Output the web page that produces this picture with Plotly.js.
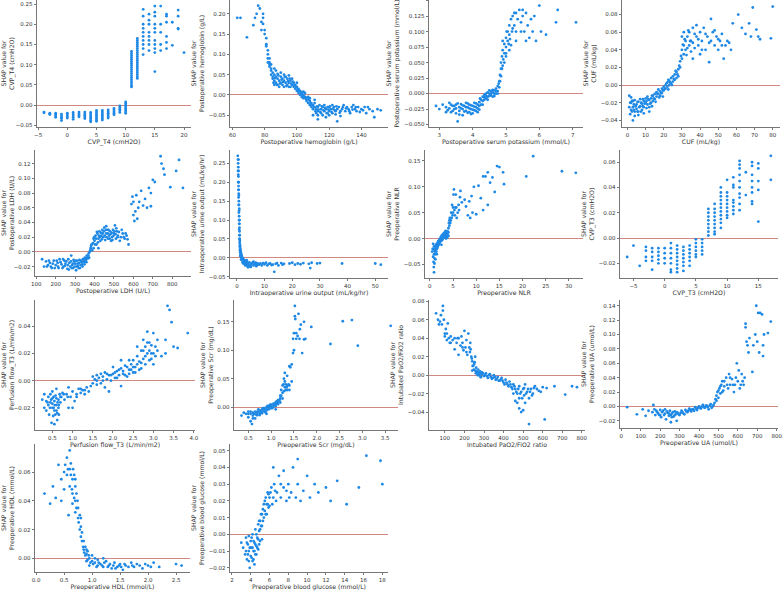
<!DOCTYPE html>
<html>
<head>
<meta charset="utf-8">
<script src="https://cdn.plot.ly/plotly-3.0.1.min.js"></script>
<style>
  html, body { margin: 0; padding: 0; background: #fff; }
  #chart { width: 784px; height: 593px; }
</style>
</head>
<body>
<div id="chart"></div>
<script>
// feature names, one per panel
let featureNames = [
    'CVP_T4 (cmH2O)', 'Postoperative hemoglobin (g/L)', 'Postoperative serum potassium (mmol/L)', 'CUF (mL/kg)',
    'Postoperative LDH (U/L)', 'Intraoperative urine output (mL/kg/hr)', 'Preoperative NLR', 'CVP_T3 (cmH2O)',
    'Perfusion flow_T3 (L/min/m2)', 'Preoperative Scr (mg/dL)', 'Intubated PaO2/FiO2 ratio', 'Preoperative UA (umol/L)',
    'Preoperative HDL (mmol/L)', 'Preoperative blood glucose (mmol/L)'
];

// discrete features: [value, [shap values...]]
let cvpT4 = [
    [-4, [-0.017, -0.019]],
    [-3, [-0.020, -0.022, -0.023]],
    [-2, [-0.020, -0.024, -0.027, -0.030]],
    [-1, [-0.022, -0.026, -0.030, -0.033, -0.038]],
    [0, [-0.020, -0.024, -0.028, -0.032]],
    [1, [-0.018, -0.022, -0.026, -0.030, -0.035]],
    [2, [-0.017, -0.021, -0.025, -0.029]],
    [3, [-0.017, -0.021, -0.025, -0.029, -0.033]],
    [4, [-0.018, -0.022, -0.026, -0.030, -0.034, -0.038, -0.041]],
    [5, [-0.013, -0.017, -0.021, -0.025, -0.029, -0.033, -0.037, -0.040]],
    [6, [-0.013, -0.017, -0.021, -0.025, -0.029, -0.033, -0.037]],
    [7, [-0.012, -0.016, -0.020, -0.024, -0.028, -0.032]],
    [8, [-0.008, -0.012, -0.016, -0.020, -0.024]],
    [9, [-0.002, -0.006, -0.010, -0.014, -0.018]],
    [10, [0.008, 0.004, 0.000, -0.004, -0.008, -0.012, -0.016, -0.020]],
    [11, [0.133, 0.128, 0.123, 0.118, 0.113, 0.108, 0.103, 0.098, 0.093, 0.088, 0.083, 0.078, 0.073, 0.068, 0.063, 0.058, 0.053, 0.048, 0.045]],
    [12, [0.165, 0.160, 0.155, 0.150, 0.145, 0.140, 0.135, 0.130, 0.125, 0.120, 0.115, 0.110, 0.105, 0.100, 0.095, 0.090, 0.085, 0.080, 0.075, 0.070, 0.066]],
    [13, [0.237, 0.220, 0.200, 0.190, 0.180, 0.170, 0.160, 0.150, 0.140, 0.125]],
    [14, [0.225, 0.210, 0.200, 0.180, 0.170, 0.160, 0.150, 0.135]],
    [15, [0.245, 0.230, 0.220, 0.200, 0.190, 0.180, 0.160, 0.150, 0.140, 0.130, 0.083]],
    [16, [0.245, 0.200, 0.180, 0.150, 0.135]],
    [17, [0.225, 0.220, 0.205, 0.170, 0.155, 0.140]],
    [18, [0.205, 0.148]],
    [19, [0.235, 0.220, 0.190, 0.188]],
    [20, [0.130]]
];

let cvpT3 = [
    [-6, [-0.015]],
    [-5, [-0.006]],
    [-4, [-0.022]],
    [-3, [-0.007, -0.010, -0.015, -0.018]],
    [-2, [-0.008, -0.011, -0.015, -0.018, -0.025]],
    [-1, [-0.008, -0.011, -0.014, -0.017, -0.020]],
    [0, [-0.008, -0.012, -0.016, -0.020]],
    [1, [-0.004, -0.008, -0.012, -0.016, -0.020, -0.025, -0.027]],
    [2, [-0.006, -0.009, -0.012, -0.015, -0.018, -0.021, -0.024, -0.027]],
    [3, [-0.007, -0.010, -0.013, -0.016, -0.019, -0.022, -0.026]],
    [4, [-0.006, -0.009, -0.012, -0.015, -0.018, -0.022]],
    [5, [-0.001, -0.004, -0.007, -0.010, -0.013, -0.015]],
    [6, [-0.001, -0.004, -0.007, -0.010, -0.013]],
    [7, [0.023, 0.020, 0.017, 0.014, 0.011, 0.008, 0.005, 0.002]],
    [8, [0.027, 0.023, 0.020, 0.017, 0.014, 0.011, 0.008, 0.005, 0.003]],
    [9, [0.040, 0.036, 0.033, 0.030, 0.027, 0.024, 0.021, 0.018, 0.015, 0.012, 0.008]],
    [10, [0.046, 0.036, 0.033, 0.030, 0.027, 0.024, 0.021, 0.018, 0.016]],
    [11, [0.048, 0.042, 0.040, 0.030, 0.028, 0.025, 0.022, 0.019]],
    [12, [0.061, 0.058, 0.055, 0.050, 0.045, 0.040, 0.035, 0.032, 0.027, 0.022]],
    [13, [0.052, 0.034]],
    [14, [0.060, 0.057, 0.050, 0.045, 0.040, 0.036, 0.029, 0.027]],
    [15, [0.059, 0.055, 0.045, 0.038, 0.013]],
    [17, [0.065, 0.046]]
];

// continuous features: [value, shap]
let hemoglobin = [
    [63,0.19],[65,0.19],[69,0.142],[73,0.172],[74,0.19],[75,0.2],[76,0.22],[77,0.213],[78,0.18],[78,0.16],[79,0.19],[79,0.2],
    [79,0.175],[80,0.15],[80,0.16],[81,0.14],[81,0.125],[81,0.12],[82,0.11],[82,0.1],[82,0.09],[83,0.08],[83,0.07],[83,0.075],
    [84,0.06],[84,0.065],[84,0.05],[85,0.055],[85,0.045],[85,0.04],[86,0.05],[86,0.035],[87,0.03],[87,0.045],[88,0.04],[88,0.025],
    [89,0.035],[89,0.02],[90,0.045],[90,0.03],[91,0.025],[91,0.04],[92,0.035],[92,0.02],[93,0.03],[93,0.045],[94,0.025],[94,0.04],
    [95,0.03],[95,0.02],[96,0.035],[96,0.02],[97,0.025],[97,0.04],[98,0.02],[98,0.03],[99,0.015],[99,0.025],[100,0.01],[100,0.02],
    [101,0.005],[101,0.015],[102,0.0],[102,0.01],[103,0.005],[103,-0.005],[104,0.0],[104,-0.008],[105,-0.005],[105,0.005],
    [106,-0.01],[106,-0.015],[107,-0.005],[107,-0.02],[108,-0.015],[108,-0.025],[109,-0.02],[109,-0.03],[110,-0.025],[110,-0.035],
    [111,-0.03],[111,-0.02],[112,-0.035],[112,-0.045],[113,-0.03],[113,-0.04],[114,-0.025],[115,-0.035],[115,-0.045],[116,-0.03],
    [117,-0.04],[117,-0.025],[118,-0.035],[119,-0.03],[119,-0.045],[120,-0.04],[120,-0.03],[121,-0.035],[122,-0.025],[122,-0.045],
    [123,-0.03],[124,-0.04],[125,-0.035],[125,-0.065],[126,-0.03],[127,-0.04],[128,-0.035],[129,-0.025],[130,-0.04],[131,-0.03],
    [132,-0.035],[133,-0.045],[134,-0.03],[135,-0.025],[136,-0.035],[137,-0.04],[138,-0.03],[140,-0.035],[142,-0.03],[143,-0.045],
    [145,-0.035],[147,-0.04],[148,-0.055],[150,-0.035],[152,-0.038],[113,-0.06],[118,-0.055],[110,-0.05],[127,-0.052],[90,0.055],
    [87,0.06],[95,0.048],
    [85.5,0.03],[86.5,0.042],[87.5,0.025],[88.5,0.048],[89.5,0.028],[90.5,0.038],[91.5,0.032],[92.5,0.044],[93.5,0.022],[94.5,0.034],
    [95.5,0.04],[96.5,0.028],[97.5,0.033],[98.5,0.024],[99.5,0.02],[100.5,0.014],[101.5,0.01],[102.5,0.006],[103.5,0.0],[104.5,-0.004],
    [105.5,-0.01],[106.5,-0.006],[107.5,-0.012],[108.5,-0.02],[109.5,-0.025],[110.5,-0.03],[111.5,-0.04],[112.5,-0.028],[113.5,-0.036],
    [114.5,-0.042],[115.5,-0.028],[116.5,-0.038],[117.5,-0.032],[118.5,-0.045],[119.5,-0.036],[120.5,-0.028],[121.5,-0.042],
    [122.5,-0.034],[123.5,-0.038],[124.5,-0.028],[126.5,-0.044],[128.5,-0.03],[130.5,-0.033],[132.5,-0.04],[134.5,-0.036],
    [136.5,-0.03],[139,-0.042],[141,-0.038],[144,-0.03],[86,0.025],[88,0.052],[92,0.05],[100,0.03],[104,0.008],[108,-0.008],
    [111,-0.012],[113,-0.05],[116,-0.05],[120,-0.05],[124,-0.048],[86,0.065],[84,0.075],[83,0.09],[82,0.08]
];

let potassium = [
    [2.9,-0.02],[3.1,-0.018],[3.2,-0.022],[3.25,-0.027],[3.3,-0.015],[3.35,-0.03],[3.4,-0.02],[3.45,-0.025],[3.5,-0.018],[3.5,-0.032],
    [3.55,-0.045],[3.6,-0.022],[3.6,-0.028],[3.65,-0.017],[3.7,-0.025],[3.7,-0.035],[3.75,-0.02],[3.8,-0.028],[3.8,-0.015],[3.85,-0.022],
    [3.9,-0.03],[3.9,-0.018],[3.95,-0.025],[4.0,-0.02],[4.0,-0.032],[4.05,-0.015],[4.05,-0.027],[4.1,-0.022],[4.15,-0.018],[4.15,-0.03],
    [4.2,-0.02],[4.25,-0.01],[4.25,-0.018],[4.3,-0.005],[4.3,-0.012],[4.35,-0.002],[4.35,-0.01],[4.4,0.0],[4.4,-0.008],[4.45,0.002],
    [4.45,-0.005],[4.5,0.0],[4.5,0.005],[4.55,-0.003],[4.55,0.004],[4.6,0.002],[4.6,-0.005],[4.65,0.005],[4.7,0.0],[4.7,0.008],
    [4.75,0.004],[4.75,0.012],[4.8,0.01],[4.8,0.02],[4.82,0.03],[4.85,0.04],[4.85,0.05],[4.88,0.06],[4.9,0.045],[4.9,0.07],
    [4.95,0.065],[4.95,0.08],[5.0,0.075],[5.0,0.09],[5.05,0.085],[5.05,0.1],[5.1,0.095],[5.1,0.11],[5.15,0.12],[5.2,0.105],
    [5.2,0.125],[5.25,0.11],[5.3,0.13],[5.3,0.1],[5.35,0.12],[5.4,0.135],[5.45,0.115],[5.5,0.125],[5.55,0.1],[5.6,0.13],
    [5.65,0.11],[5.7,0.09],[5.75,0.12],[5.8,0.1],[5.9,0.085],[6.0,0.142],[6.05,0.1],[6.2,0.095],[6.5,0.115],[6.55,0.135],
    [7.1,0.115],[5.6,0.085],[5.85,0.125],[5.0,0.06],[5.1,0.07],[4.9,0.085],[5.15,0.078],
    [3.3,-0.024],[3.35,-0.018],[3.4,-0.028],[3.45,-0.02],[3.5,-0.024],[3.55,-0.016],[3.6,-0.034],[3.65,-0.024],[3.7,-0.019],
    [3.75,-0.029],[3.8,-0.022],[3.85,-0.031],[3.85,-0.016],[3.9,-0.024],[3.95,-0.019],[3.95,-0.033],[4.0,-0.026],[4.05,-0.021],
    [4.1,-0.028],[4.1,-0.016],[4.15,-0.024],[4.2,-0.014],[4.2,-0.026],[4.22,-0.008],[4.3,-0.018],[4.35,-0.006],[4.4,-0.004],
    [4.45,-0.01],[4.5,-0.004],[4.55,0.0],[4.6,0.006],[4.65,0.0],[4.65,-0.004],[4.7,0.004],[4.75,0.0],[4.78,0.016],[4.82,0.02],
    [4.85,0.028],[4.88,0.04],[4.92,0.055],[4.95,0.05],[5.0,0.065],[5.02,0.1],[5.08,0.08],[5.12,0.088],[5.18,0.1],[5.25,0.13],
    [5.3,0.085],[5.45,0.1],[5.5,0.135],[3.2,-0.03],[3.0,-0.025]
];

let cuf = [
    [1,-0.012],[1,-0.025],[1.5,-0.033],[2,-0.02],[2,-0.028],[2.5,-0.018],[3,-0.04],[3,-0.025],[3.5,-0.022],[4,-0.03],[4,-0.017],
    [5,-0.022],[5,-0.027],[6,-0.019],[6,-0.03],[7,-0.024],[7,-0.016],[8,-0.021],[8,-0.028],[9,-0.018],[9,-0.025],[10,-0.02],
    [10,-0.015],[11,-0.022],[11,-0.013],[12,-0.017],[12,-0.025],[13,-0.015],[13,-0.02],[14,-0.012],[14,-0.018],[15,-0.01],
    [15,-0.016],[16,-0.013],[16,-0.008],[17,-0.01],[17,-0.005],[18,-0.007],[18,-0.012],[19,-0.004],[19,-0.009],[20,-0.002],
    [20,-0.006],[21,0.0],[21,-0.004],[22,0.003],[22,-0.002],[23,0.005],[23,0.0],[24,0.008],[24,0.002],[25,0.01],[25,0.004],
    [26,0.012],[26,0.006],[27,0.015],[27,0.008],[28,0.018],[28,0.01],[29,0.02],[29,0.027],[30,0.03],[30,0.04],[31,0.045],
    [31,0.035],[32,0.05],[32,0.04],[33,0.055],[33,0.042],[34,0.06],[34,0.045],[35,0.038],[35,0.05],[36,0.065],[37,0.042],
    [38,0.055],[39,0.045],[40,0.06],[40,0.035],[41,0.05],[42,0.065],[43,0.04],[44,0.055],[45,0.048],[46,0.075],[47,0.06],
    [48,0.045],[49,0.055],[50,0.04],[51,0.05],[52,0.045],[53,0.03],[55,0.05],[57,0.04],[58,0.07],[61,0.08],[63,0.065],
    [65,0.058],[67,0.07],[68,0.055],[69,0.088],[71,0.063],[72,0.055],[73,0.052],[79,0.053],[80,0.089],[45,0.026],[36,0.03],
    [38,0.068],[30,0.055],[31,0.06],
    [1.5,-0.02],[2.5,-0.03],[3,-0.018],[3.5,-0.028],[4.5,-0.024],[5.5,-0.019],[5.5,-0.03],[6.5,-0.025],[7.5,-0.02],[7.5,-0.03],
    [8.5,-0.016],[8.5,-0.024],[9.5,-0.021],[10.5,-0.018],[10.5,-0.026],[11.5,-0.016],[12.5,-0.021],[13.5,-0.012],[13.5,-0.024],
    [14.5,-0.015],[15.5,-0.019],[16.5,-0.01],[17.5,-0.014],[18.5,-0.009],[19.5,-0.006],[19.5,-0.013],[20.5,-0.004],[21.5,0.002],
    [22.5,-0.005],[22.5,0.006],[23.5,0.003],[24.5,0.0],[25.5,0.007],[26.5,0.016],[27.5,0.012],[28.5,0.022],[29.5,0.033],
    [30.5,0.046],[31.5,0.052],[32.5,0.034],[33.5,0.062],[34.5,0.05],[36,0.048],[37,0.058],[39,0.052],[41,0.04],[43,0.058],
    [46,0.05],[48,0.062],[50,0.052],[52,0.058],[54,0.045],[56,0.048],[2,-0.014],[4,-0.035],[6,-0.034],[9,-0.032],[12,-0.03]
];

let ldh = [
    [130,-0.01],[140,-0.02],[150,-0.013],[160,-0.018],[170,-0.015],[180,-0.022],[190,-0.012],[200,-0.018],[210,-0.015],[215,-0.022],
    [220,-0.01],[230,-0.017],[240,-0.02],[245,-0.012],[250,-0.016],[260,-0.023],[265,-0.01],[270,-0.015],[275,-0.02],[280,-0.005],
    [285,-0.018],[290,-0.022],[295,-0.013],[300,-0.016],[305,-0.025],[310,-0.012],[315,-0.019],[320,-0.015],[325,-0.022],[330,-0.012],
    [335,-0.017],[340,-0.01],[345,-0.014],[350,-0.008],[355,-0.012],[360,-0.005],[365,-0.009],[370,-0.002],[375,0.0],[380,0.005],
    [385,0.01],[388,0.002],[392,0.012],[395,0.018],[400,0.015],[405,0.022],[410,0.01],[415,0.025],[420,0.018],[425,0.028],
    [430,0.015],[435,0.022],[440,0.03],[445,0.02],[450,0.033],[455,0.016],[460,0.025],[465,0.03],[470,0.018],[475,0.022],
    [480,0.028],[485,0.015],[490,0.02],[495,0.03],[500,0.025],[505,0.036],[510,0.018],[515,0.028],[520,0.022],[530,0.015],
    [540,0.03],[550,0.02],[560,0.025],[570,0.017],[575,0.01],[590,0.065],[595,0.075],[600,0.05],[605,0.042],[610,0.055],
    [615,0.077],[620,0.045],[625,0.06],[630,0.068],[640,0.083],[650,0.063],[660,0.072],[670,0.06],[680,0.087],[690,0.062],
    [700,0.098],[710,0.095],[740,0.13],[745,0.12],[755,0.113],[760,0.105],[790,0.088],[820,0.11],[835,0.125],[855,0.087],
    [600,0.068],[690,0.08],[460,0.035],[420,0.005],[395,0.005],
    [155,-0.02],[165,-0.012],[175,-0.02],[185,-0.016],[195,-0.022],[205,-0.012],[212,-0.02],[225,-0.014],[235,-0.022],[238,-0.01],
    [248,-0.019],[255,-0.013],[262,-0.018],[268,-0.024],[278,-0.013],[283,-0.022],[288,-0.016],[292,-0.011],[298,-0.02],[302,-0.012],
    [308,-0.02],[312,-0.016],[318,-0.022],[322,-0.011],[328,-0.018],[333,-0.014],[338,-0.02],[343,-0.012],[348,-0.017],[353,-0.01],
    [358,-0.014],[362,-0.008],[368,-0.005],[372,-0.008],[378,0.002],[382,0.008],[398,0.02],[402,0.01],[408,0.018],[412,0.027],
    [418,0.013],[422,0.022],[428,0.02],[432,0.026],[438,0.017],[442,0.025],[448,0.028],[452,0.022],[458,0.03],[462,0.02],
    [468,0.025],[472,0.03],[478,0.018],[482,0.024],[488,0.026],[492,0.016],[498,0.022],[503,0.028],[508,0.024],[512,0.032],
    [518,0.02],[525,0.027],[535,0.02],[545,0.025],[555,0.018],[565,0.022]
];

let urineOutput = [
    [0.3,0.27],[0.4,0.26],[0.45,0.25],[0.5,0.24],[0.5,0.22],[0.55,0.215],[0.6,0.2],[0.6,0.19],[0.65,0.18],[0.7,0.165],[0.7,0.15],
    [0.75,0.14],[0.8,0.125],[0.8,0.11],[0.85,0.1],[0.9,0.09],[0.9,0.08],[0.95,0.07],[1.0,0.06],[1.0,0.05],[1.05,0.045],[1.1,0.035],
    [1.15,0.03],[1.2,0.025],[1.3,0.02],[1.4,0.015],[1.5,0.01],[1.6,0.008],[1.7,0.005],[1.8,0.002],[2,0.0],[2.2,-0.003],[2.5,-0.005],
    [2.8,-0.008],[3,-0.01],[3.3,-0.012],[3.6,-0.008],[4,-0.015],[4.5,-0.012],[5,-0.018],[5.5,-0.014],[6,-0.02],[6.5,-0.016],
    [7,-0.022],[7.5,-0.015],[8,-0.018],[9,-0.02],[9.5,-0.014],[10,-0.017],[11,-0.02],[12,-0.015],[13,-0.018],[13.5,-0.037],
    [14,-0.016],[15,-0.02],[16,-0.014],[17,-0.016],[19,-0.015],[20,-0.013],[21,-0.018],[22,-0.015],[23,-0.017],[24,-0.014],
    [26,-0.016],[26.5,-0.027],[27,-0.013],[29,-0.015],[30,-0.014],[38,-0.015],[50,-0.015],[52,-0.018],[1.5,-0.005],[2,-0.012],
    [3,-0.02],[4,-0.025],[5,-0.024],[6,-0.01],[1.2,0.005],[0.6,0.23],[0.65,0.17],
    [0.4,0.23],[0.5,0.2],[0.55,0.18],[0.6,0.16],[0.65,0.14],[0.7,0.12],[0.75,0.1],[0.8,0.09],[0.85,0.075],[0.9,0.06],[0.95,0.05],
    [1.0,0.04],[1.05,0.03],[1.1,0.02],[1.2,0.015],[1.3,0.01],[1.4,0.005],[1.6,0.0],[1.8,-0.004],[2.2,-0.008],[2.5,-0.012],
    [2.8,-0.015],[3.2,-0.017],[3.5,-0.02],[3.8,-0.014],[4.2,-0.019],[4.8,-0.022],[5.2,-0.016],[5.8,-0.012],[6.2,-0.018],
    [6.8,-0.013],[7.2,-0.019],[8.5,-0.015],[10.5,-0.013],[11.5,-0.016],[12.5,-0.019],[14.5,-0.014],[16.5,-0.018],[1.5,0.008],
    [2.3,-0.015],[3.5,-0.006],[0.85,0.13],[0.95,0.1],[0.55,0.26]
];

let nlr = [
    [0.5,-0.025],[0.6,-0.02],[0.7,-0.035],[0.8,-0.045],[0.9,-0.065],[0.9,-0.03],[1.0,-0.022],[1.0,-0.048],[1.1,-0.015],[1.2,-0.04],
    [1.2,-0.02],[1.3,-0.012],[1.4,-0.025],[1.5,-0.01],[1.6,-0.018],[1.7,-0.008],[1.8,-0.012],[1.9,-0.005],[2.0,-0.01],[2.1,-0.002],
    [2.2,-0.006],[2.3,0.0],[2.4,-0.004],[2.5,0.003],[2.6,-0.002],[2.7,0.005],[2.8,0.0],[2.9,0.008],[3.0,0.002],[3.1,0.01],
    [3.2,0.004],[3.3,0.012],[3.4,0.006],[3.5,0.014],[3.6,0.003],[3.7,0.01],[3.8,0.005],[3.9,0.013],[4.0,0.02],[4.1,0.03],
    [4.2,0.025],[4.3,0.04],[4.5,0.035],[4.6,0.05],[4.8,0.065],[4.9,0.045],[5.0,0.06],[5.1,0.085],[5.2,0.095],[5.3,0.055],
    [5.5,0.06],[5.6,0.085],[5.8,0.04],[6.0,0.05],[6.2,0.065],[6.5,0.08],[6.6,0.092],[6.9,0.07],[7.5,0.075],[7.8,0.062],
    [8.2,0.045],[8.5,0.072],[8.7,0.04],[9.0,0.082],[9.2,0.05],[9.5,0.1],[10.0,0.047],[10.5,0.102],[11.0,0.078],[11.5,0.12],
    [12.0,0.12],[12.5,0.128],[13.0,0.108],[13.5,0.118],[14.0,0.09],[14.5,0.14],[15.0,0.138],[15.8,0.128],[16.0,0.105],[20.8,0.12],
    [22.3,0.159],[28.5,0.13],[31.5,0.127],[1.5,-0.03],[2.5,-0.012],[3.5,0.0],[4.0,0.005],[0.7,-0.01],[11.5,0.055],[12.5,0.065],
    [0.8,-0.02],[0.9,-0.015],[1.0,-0.03],[1.1,-0.025],[1.2,-0.03],[1.3,-0.02],[1.4,-0.015],[1.5,-0.02],[1.6,-0.01],[1.7,-0.015],
    [1.8,-0.005],[1.9,-0.012],[2.0,-0.004],[2.1,-0.008],[2.2,0.0],[2.3,-0.005],[2.4,0.004],[2.5,-0.004],[2.6,0.006],[2.7,-0.002],
    [2.8,0.008],[2.9,0.002],[3.0,0.01],[3.1,0.004],[3.2,0.012],[3.3,0.005],[3.4,0.015],[3.5,0.008],[3.6,0.012],[3.7,0.002],
    [3.8,0.014],[3.9,0.006],[4.0,0.012],[4.2,0.035],[4.4,0.03],[4.7,0.04],[5.0,0.05],[5.4,0.045],[5.7,0.06],[6.3,0.055],
    [1.0,-0.038],[0.85,-0.055]
];

let perfusionFlow = [
    [0.25,-0.014],[0.3,-0.02],[0.3,-0.01],[0.35,-0.015],[0.35,-0.022],[0.4,-0.012],[0.4,-0.018],[0.42,-0.025],[0.45,-0.01],
    [0.45,-0.016],[0.48,-0.031],[0.5,-0.013],[0.5,-0.02],[0.5,-0.008],[0.52,-0.026],[0.55,-0.015],[0.55,-0.022],[0.55,-0.032],
    [0.58,-0.011],[0.6,-0.018],[0.6,-0.006],[0.62,-0.024],[0.62,-0.029],[0.65,-0.014],[0.65,-0.02],[0.68,-0.01],[0.7,-0.016],
    [0.72,-0.012],[0.75,-0.009],[0.8,-0.014],[0.85,-0.01],[0.9,-0.02],[0.95,-0.012],[1.0,-0.008],[1.05,-0.015],[1.1,-0.01],
    [1.15,-0.006],[1.2,-0.009],[1.25,-0.007],[1.3,-0.01],[1.35,-0.005],[1.4,-0.008],[1.45,-0.004],[1.5,-0.002],[1.5,0.003],
    [1.55,0.001],[1.6,0.004],[1.6,-0.003],[1.65,0.002],[1.7,0.005],[1.7,-0.002],[1.75,0.003],[1.8,0.006],[1.8,-0.005],[1.85,0.001],
    [1.9,0.004],[1.95,0.0],[2.0,0.005],[2.0,0.01],[2.05,0.002],[2.1,0.007],[2.15,0.004],[2.2,0.009],[2.2,-0.004],[2.25,0.005],
    [2.3,0.011],[2.35,0.003],[2.4,0.008],[2.45,0.012],[2.5,0.006],[2.5,0.015],[2.55,0.01],[2.6,0.018],[2.65,0.008],[2.7,0.022],
    [2.7,0.013],[2.75,0.03],[2.8,0.018],[2.8,0.025],[2.85,0.036],[2.9,0.015],[2.9,0.028],[2.95,0.02],[3.0,0.035],[3.0,0.012],
    [3.05,0.025],[3.1,0.03],[3.2,0.018],[3.3,0.03],[3.35,0.055],[3.4,0.052],[3.45,0.043],[3.5,0.025],[3.6,0.024],[3.85,0.035],
    [3.3,0.02],[2.2,0.015],[1.9,-0.008],[1.0,-0.02],[0.9,-0.005],
    [0.38,-0.016],[0.44,-0.02],[0.47,-0.014],[0.5,-0.017],[0.53,-0.012],[0.53,-0.02],[0.56,-0.018],[0.57,-0.025],[0.6,-0.013],
    [0.6,-0.022],[0.63,-0.016],[0.66,-0.018],[0.66,-0.025],[0.7,-0.012],[0.78,-0.01],[0.88,-0.012],[1.1,-0.012],[1.2,-0.006],
    [1.3,-0.007],[1.6,0.0],[1.75,0.0],[1.85,0.005],[1.95,0.004],[2.05,0.006],[2.1,0.002],[2.15,0.008],[2.25,0.007],[2.3,0.004],
    [2.35,0.01],[2.4,0.005],[2.45,0.008],[2.5,0.01],[2.55,0.006],[2.6,0.012],[2.65,0.014],[2.7,0.009],[2.75,0.016],[2.75,0.022],
    [2.8,0.012],[2.85,0.02],[2.85,0.028],[2.9,0.022],[2.95,0.026],[2.95,0.016],[3.0,0.02],[3.05,0.018],[3.1,0.022],[2.6,0.025],
    [2.4,0.015]
];

let scr = [
    [0.35,-0.015],[0.4,-0.01],[0.45,-0.012],[0.5,-0.008],[0.5,-0.018],[0.55,-0.012],[0.55,-0.025],[0.58,-0.03],[0.6,-0.015],
    [0.6,-0.01],[0.65,-0.012],[0.65,-0.02],[0.7,-0.008],[0.7,-0.014],[0.75,-0.01],[0.75,-0.006],[0.8,-0.011],[0.8,-0.004],
    [0.85,-0.008],[0.85,-0.002],[0.9,-0.006],[0.9,0.0],[0.95,-0.004],[0.95,0.002],[1.0,-0.002],[1.0,0.004],[1.05,0.0],[1.05,0.006],
    [1.1,0.002],[1.1,0.008],[1.15,0.005],[1.15,0.012],[1.2,0.008],[1.2,0.02],[1.22,0.03],[1.25,0.038],[1.25,0.015],[1.28,0.05],
    [1.28,0.028],[1.3,0.06],[1.3,0.035],[1.32,0.04],[1.35,0.03],[1.38,0.04],[1.4,0.038],[1.42,0.07],[1.45,0.045],[1.45,0.075],
    [1.48,0.095],[1.48,0.12],[1.5,0.1],[1.5,0.13],[1.52,0.178],[1.52,0.16],[1.53,0.155],[1.55,0.13],[1.55,0.12],[1.58,0.125],
    [1.6,0.164],[1.62,0.12],[1.63,0.137],[1.65,0.145],[1.68,0.095],[1.72,0.15],[1.72,0.119],[1.75,0.12],[1.88,0.141],[2.3,0.111],
    [2.57,0.151],[2.77,0.153],[2.9,0.108],[3.62,0.143],[1.1,-0.004],[0.9,-0.012],[1.35,0.055],[1.4,0.072],
    [0.5,-0.012],[0.55,-0.008],[0.6,-0.02],[0.62,-0.012],[0.65,-0.008],[0.68,-0.014],[0.7,-0.01],[0.72,-0.004],[0.75,-0.014],
    [0.78,-0.008],[0.8,-0.008],[0.82,-0.002],[0.85,-0.005],[0.88,-0.01],[0.9,-0.003],[0.92,0.002],[0.95,-0.001],[0.98,0.004],
    [1.0,0.001],[1.02,-0.002],[1.05,0.003],[1.08,0.006],[1.1,0.005],[1.12,0.01],[1.15,0.008],[1.18,0.012],[1.2,0.015],[1.22,0.02],
    [1.25,0.025],[1.27,0.04],[1.3,0.045],[1.32,0.03],[1.34,0.035],[1.36,0.038],[1.4,0.03]
];

let pfRatio = [
    [55,0.067],[65,0.06],[70,0.055],[75,0.058],[80,0.065],[85,0.055],[90,0.075],[90,0.07],[95,0.06],[100,0.045],[100,0.042],
    [105,0.05],[110,0.038],[115,0.056],[120,0.04],[125,0.035],[130,0.042],[140,0.038],[150,0.028],[160,0.035],[165,0.04],
    [170,0.022],[180,0.032],[185,0.042],[190,0.035],[195,0.027],[200,0.048],[205,0.03],[210,0.038],[215,0.022],[220,0.045],
    [225,0.03],[228,0.025],[230,0.035],[235,0.02],[240,0.015],[245,0.01],[250,0.012],[255,0.005],[260,0.008],[265,0.002],
    [270,0.006],[275,0.0],[280,0.004],[285,-0.002],[290,0.003],[300,-0.001],[310,0.002],[320,-0.003],[330,0.001],[340,-0.004],
    [350,0.0],[360,-0.005],[370,-0.002],[380,-0.006],[390,-0.003],[400,-0.008],[410,-0.005],[420,-0.01],[430,-0.007],[440,-0.013],
    [450,-0.01],[460,-0.015],[470,-0.02],[480,-0.012],[490,-0.018],[500,-0.015],[505,-0.022],[510,-0.01],[520,-0.018],[530,-0.053],
    [530,-0.025],[540,-0.015],[550,-0.02],[560,-0.012],[580,-0.017],[600,-0.013],[610,-0.048],[620,-0.014],[660,-0.012],[715,-0.021],
    [750,-0.012],[775,-0.013],[470,-0.03],[480,-0.036],[490,-0.04],[500,-0.038],[460,-0.028],[240,0.005],[255,0.02],
    [232,0.028],[238,0.018],[242,0.01],[248,0.006],[252,0.014],[258,0.002],[262,0.004],[268,0.0],[272,0.003],[278,0.002],
    [282,-0.002],[288,0.001],[295,0.002],[305,0.0],[315,-0.001],[325,0.0],[335,-0.002],[345,-0.003],[355,-0.002],[365,-0.004],
    [375,-0.006],[385,-0.005],[395,-0.006],[405,-0.01],[415,-0.008],[425,-0.012],[435,-0.01],[445,-0.015],[455,-0.012],
    [465,-0.018],[475,-0.015],[485,-0.02],[495,-0.025],[505,-0.014],[515,-0.02],[525,-0.015],[535,-0.018],[545,-0.022],
    [555,-0.014],[570,-0.015],[590,-0.018],[450,-0.02],[480,-0.025],[510,-0.03],[210,0.025],[190,0.03],[170,0.04],[150,0.04],
    [130,0.035],[110,0.045]
];

let uricAcid = [
    [30,-0.001],[80,-0.011],[110,-0.004],[125,-0.013],[140,-0.006],[160,-0.008],[165,0.002],[170,-0.004],[175,-0.012],[180,-0.006],
    [190,-0.01],[200,-0.005],[205,-0.015],[210,-0.008],[220,-0.012],[225,-0.004],[230,-0.018],[240,-0.009],[245,-0.013],[250,-0.006],
    [255,-0.022],[260,-0.01],[270,-0.014],[275,-0.007],[280,-0.011],[285,-0.02],[290,-0.009],[300,-0.012],[310,-0.006],[320,-0.01],
    [330,-0.005],[340,-0.008],[350,-0.003],[360,-0.007],[370,-0.004],[380,-0.001],[390,-0.005],[400,0.0],[410,-0.003],[420,0.002],
    [430,-0.002],[440,0.001],[450,-0.004],[460,0.003],[470,0.0],[480,0.005],[485,0.01],[490,0.015],[495,0.02],[500,0.012],
    [505,0.025],[510,0.018],[515,0.03],[520,0.035],[525,0.022],[530,0.028],[540,0.04],[550,0.025],[555,0.045],[560,0.03],
    [570,0.038],[580,0.02],[590,0.04],[595,0.06],[600,0.035],[605,0.05],[610,0.025],[620,0.045],[630,0.03],[635,0.04],
    [640,0.11],[640,0.115],[645,0.09],[650,0.085],[655,0.075],[660,0.095],[675,0.048],[680,0.085],[690,0.1],[695,0.14],
    [700,0.09],[705,0.13],[710,0.075],[715,0.13],[725,0.128],[730,0.07],[730,0.085],[735,0.1],[755,0.102],[770,0.118],
    [185,-0.008],[195,-0.012],[215,-0.006],[225,-0.01],[235,-0.007],[245,-0.01],[255,-0.012],[265,-0.008],[275,-0.012],
    [285,-0.008],[295,-0.011],[305,-0.009],[315,-0.008],[325,-0.011],[335,-0.007],[345,-0.006],[355,-0.005],[365,-0.004],
    [375,-0.006],[385,-0.003],[395,-0.002],[405,-0.002],[415,0.0],[425,-0.001],[435,0.001],[445,-0.001],[455,0.001],[465,-0.002],
    [475,0.002],[490,0.008],[500,0.022],[510,0.028],[520,0.02],[530,0.035],[545,0.03],[560,0.04],[575,0.03],[585,0.03],
    [615,0.03],[625,0.035],[200,-0.012],[260,-0.015]
];

let hdl = [
    [0.15,0.045],[0.25,0.038],[0.3,0.05],[0.35,0.042],[0.4,0.065],[0.45,0.055],[0.5,0.06],[0.5,0.048],[0.55,0.07],[0.55,0.058],
    [0.6,0.075],[0.6,0.062],[0.6,0.05],[0.62,0.066],[0.65,0.055],[0.65,0.045],[0.68,0.058],[0.7,0.05],[0.7,0.04],[0.72,0.045],
    [0.75,0.035],[0.75,0.028],[0.78,0.03],[0.8,0.022],[0.8,0.015],[0.82,0.018],[0.85,0.012],[0.85,0.006],[0.88,0.008],[0.9,0.003],
    [0.92,0.005],[0.95,0.0],[1.0,-0.002],[1.0,0.002],[1.05,-0.003],[1.1,-0.001],[1.1,-0.005],[1.15,-0.004],[1.2,-0.006],[1.25,-0.002],
    [1.3,-0.005],[1.35,-0.007],[1.4,-0.003],[1.45,-0.006],[1.5,-0.004],[1.55,-0.008],[1.6,-0.005],[1.7,-0.003],[1.75,-0.006],
    [1.8,-0.004],[1.9,-0.007],[2.0,-0.005],[2.1,-0.003],[2.2,-0.006],[2.5,-0.004],[2.6,-0.005],[0.7,0.032],[0.65,0.038],[0.58,0.03],
    [0.9,-0.002],[0.95,-0.005],[1.2,0.0],[0.45,0.04],
    [0.52,0.065],[0.57,0.062],[0.62,0.058],[0.64,0.048],[0.66,0.062],[0.68,0.042],[0.7,0.055],[0.72,0.035],[0.74,0.04],[0.76,0.025],
    [0.78,0.02],[0.8,0.028],[0.82,0.012],[0.84,0.008],[0.86,0.004],[0.88,0.002],[0.9,0.006],[0.92,-0.001],[0.94,0.002],[0.97,-0.003],
    [1.02,-0.004],[1.05,0.0],[1.08,-0.006],[1.12,-0.003],[1.18,-0.005],[1.22,-0.003],[1.28,-0.006],[1.32,-0.004],[1.38,-0.005],
    [1.42,-0.007],[1.48,-0.005],[1.52,-0.006],[1.58,-0.004],[1.65,-0.006],[1.72,-0.005],[1.85,-0.005],[1.95,-0.004],[2.05,-0.006]
];

let glucose = [
    [3.0,-0.005],[3.2,-0.008],[3.4,-0.012],[3.5,-0.002],[3.6,-0.015],[3.7,-0.006],[3.8,-0.01],[3.9,-0.02],[4.0,-0.004],[4.0,-0.013],
    [4.1,-0.008],[4.2,-0.016],[4.2,0.0],[4.3,-0.01],[4.4,-0.005],[4.5,-0.012],[4.5,0.003],[4.6,-0.007],[4.7,-0.002],[4.8,-0.009],
    [4.8,0.006],[4.9,0.002],[5.0,-0.004],[5.0,0.008],[5.1,0.012],[5.2,0.005],[5.3,0.015],[5.4,0.01],[5.5,0.02],[5.6,0.012],
    [5.7,0.018],[5.8,0.025],[5.9,0.016],[6.0,0.022],[6.2,0.028],[6.3,0.018],[6.5,0.03],[6.7,0.02],[6.8,0.025],[7.0,0.035],
    [7.2,0.022],[7.5,0.028],[7.8,0.02],[8.0,0.03],[8.3,0.025],[8.5,0.04],[8.8,0.022],[9.0,0.03],[9.3,0.02],[9.6,0.026],
    [10.0,0.035],[10.3,0.022],[10.8,0.03],[11.2,0.025],[12.0,0.028],[12.5,0.02],[13.2,0.032],[14.2,0.018],[15.5,0.028],
    [16.3,0.047],[17.8,0.044],[18.0,0.03],[4.4,-0.018],[3.8,-0.001],[5.2,-0.003],[6.4,0.04],[7.5,0.038],[9.0,0.045],
    [3.5,-0.01],[3.6,-0.005],[3.7,-0.012],[3.8,-0.016],[3.9,-0.008],[4.0,-0.008],[4.1,-0.014],[4.1,-0.002],[4.2,-0.008],
    [4.3,-0.004],[4.3,-0.015],[4.4,-0.01],[4.5,-0.006],[4.6,-0.012],[4.6,0.0],[4.7,-0.008],[4.8,-0.003],[4.9,-0.006],[4.9,0.008],
    [5.0,0.003],[5.1,0.005],[5.2,0.012],[5.3,0.008],[5.4,0.018],[5.5,0.014],[5.6,0.022],[5.7,0.012],[5.8,0.018],[5.9,0.024],
    [6.0,0.017],[6.1,0.025],[6.4,0.022],[6.6,0.026],[7.2,0.03],[7.8,0.026],[8.1,0.022]
];

function expand(cols) {
    let pts = [];
    cols.forEach(c => c[1].forEach(v => pts.push([c[0], v])));
    return pts;
}

let panelData = [
    expand(cvpT4), hemoglobin, potassium, cuf,
    ldh, urineOutput, nlr, expand(cvpT3),
    perfusionFlow, scr, pfRatio, uricAcid,
    hdl, glucose
];

// panel boxes in px: left, right, top, bottom
let boxes = [
    [37, 191, 0, 127], [230, 388, 0, 127], [429, 583, 0, 127], [622, 780, 0, 127],
    [35, 191, 150, 276], [230, 388, 150, 278], [425, 583, 150, 278], [620, 778, 150, 278],
    [35, 195, 300, 430], [234, 398, 300, 430], [429, 585, 300, 430], [620, 778, 300, 428],
    [35, 190, 444, 572], [230, 388, 444, 572]
];
// axis ranges and tick spacing
let axes = [
    {xr: [-5.2, 21.2], yr: [-0.054, 0.26], dx: 5, dy: 0.05, fy: '.2f'},
    {xr: [58.5, 156.5], yr: [-0.079, 0.234], dx: 20, dy: 0.05, fy: '.2f'},
    {xr: [2.69, 7.31], yr: [-0.054, 0.151], dx: 1, dy: 0.025, fy: '.3f'},
    {xr: [-3, 84], yr: [-0.0475, 0.0965], dx: 10, dy: 0.02, fy: '.2f'},
    {xr: [93.5, 896.5], yr: [-0.0328, 0.1385], dx: 100, dy: 0.02, fy: '.2f'},
    {xr: [-2.5, 54.6], yr: [-0.0534, 0.2854], dx: 10, dy: 0.05, fy: '.2f'},
    {xr: [-1.05, 33.05], yr: [-0.076, 0.171], dx: 5, dy: 0.05, fy: '.2f'},
    {xr: [-7.15, 18.15], yr: [-0.0316, 0.0696], dx: 5, dy: 0.02, fy: '.2f'},
    {xr: [0.07, 4.03], yr: [-0.0363, 0.0593], dx: 0.5, dy: 0.02, fy: '.2f', fx: '.1f'},
    {xr: [0.186, 3.78], yr: [-0.0404, 0.1884], dx: 0.5, dy: 0.05, fy: '.2f', fx: '.1f'},
    {xr: [19, 816], yr: [-0.0594, 0.0814], dx: 100, dy: 0.02, fy: '.2f'},
    {xr: [-7, 807], yr: [-0.030, 0.148], dx: 100, dy: 0.02, fy: '.2f'},
    {xr: [-0.02, 2.75], yr: [-0.0095, 0.0795], dx: 0.5, dy: 0.02, fy: '.2f', fx: '.1f'},
    {xr: [1.8, 18.6], yr: [-0.0225, 0.054], dx: 2, dy: 0.01, fy: '.2f'}
];

let W = 784, H = 593;
let textColor = '#333333';
let tickFont = {family: 'DejaVu Sans', size: 5.5, color: textColor};
let titleFont = {family: 'DejaVu Sans', size: 6.2, color: textColor};

let data = [];
let layout = {
    width: W,
    height: H,
    margin: {l: 0, r: 0, t: 0, b: 0},
    paper_bgcolor: '#ffffff',
    plot_bgcolor: '#ffffff',
    showlegend: false,
    hovermode: false,
};

for (let i = 0; i < panelData.length; ++i) {
    let n = i === 0 ? '' : String(i + 1);
    let pts = panelData[i];
    data.push({
        type: 'scatter',
        mode: 'markers',
        x: pts.map(p => p[0]),
        y: pts.map(p => p[1]),
        xaxis: 'x' + n,
        yaxis: 'y' + n,
        marker: {color: '#1E88E5', size: 2.8, line: {width: 0}},
        cliponaxis: false,
    });
    let b = boxes[i], a = axes[i];
    layout['xaxis' + n] = {
        domain: [b[0] / W, b[1] / W],
        anchor: 'y' + n,
        range: a.xr,
        dtick: a.dx,
        tick0: 0,
        tickformat: a.fx || '',
        showgrid: false,
        zeroline: false,
        showline: true,
        linecolor: '#555555',
        linewidth: 0.8,
        ticks: 'outside',
        ticklen: 2.5,
        tickwidth: 0.8,
        tickcolor: '#555555',
        tickfont: tickFont,
        title: {text: featureNames[i], font: titleFont, standoff: 2},
    };
    layout['yaxis' + n] = {
        domain: [1 - b[3] / H, 1 - b[2] / H],
        anchor: 'x' + n,
        range: a.yr,
        dtick: a.dy,
        tick0: 0,
        tickformat: a.fy,
        showgrid: false,
        zeroline: true,
        zerolinecolor: '#c46a60',
        zerolinewidth: 0.8,
        showline: true,
        linecolor: '#555555',
        linewidth: 0.8,
        ticks: 'outside',
        ticklen: 2.5,
        tickwidth: 0.8,
        tickcolor: '#555555',
        tickfont: tickFont,
        title: {text: 'SHAP value for<br>' + featureNames[i], font: titleFont, standoff: 3},
    };
}

Plotly.newPlot('chart', data, layout, {staticPlot: true});
</script>
</body>
</html>
